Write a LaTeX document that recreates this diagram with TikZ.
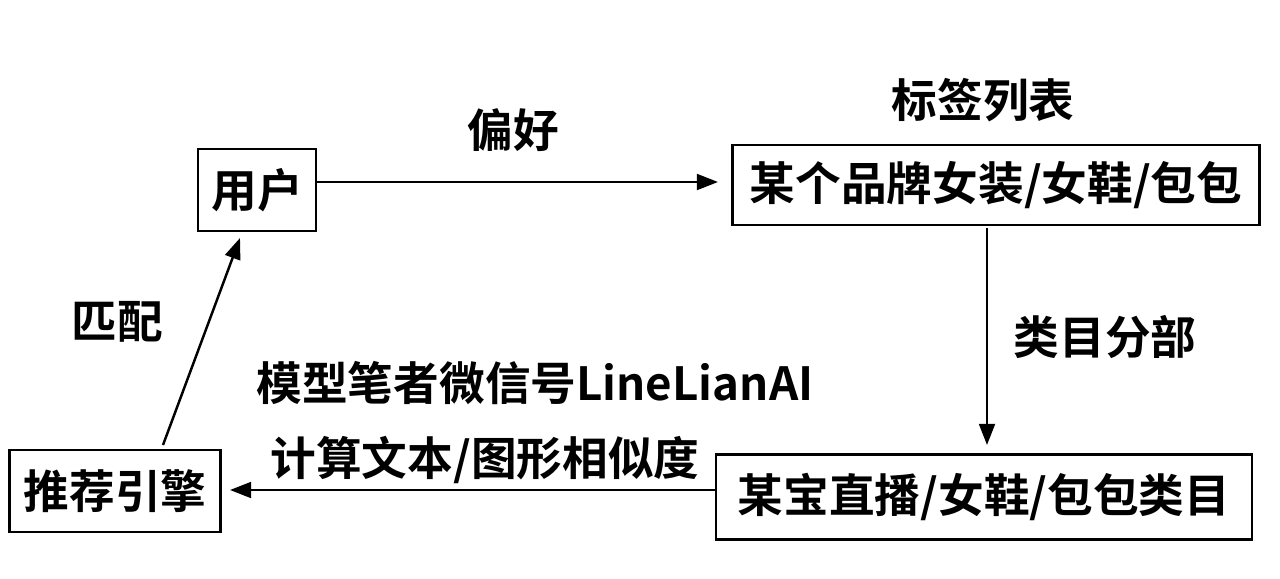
\documentclass[tikz,border=0pt]{standalone}
\usepackage{fontspec}
\setmainfont{Noto Sans CJK SC}[BoldFont={Noto Sans CJK SC Bold}]
\usetikzlibrary{arrows.meta}
\begin{document}
\begin{tikzpicture}[x=0.02cm,y=-0.02cm,
  box/.style={draw,line width=1.4pt,minimum height=1.65cm,inner sep=2pt,font=\fontsize{26}{30}\selectfont\bfseries},
  lbl/.style={font=\fontsize{26}{30}\selectfont\bfseries,inner sep=0pt},
  arr/.style={-{Triangle[length=12pt,width=9pt]},line width=1.4pt}]
\useasboundingbox (0,0) rectangle (1280,578);
\node[box,minimum width=2.36cm] (u) at (257,190) {用户};
\node[box,minimum width=10.54cm,minimum height=1.6cm] (b) at (996,185) {某个品牌女装/女鞋/包包};
\node[box,minimum width=4.22cm] (r) at (115,491) {推荐引擎};
\node[box,minimum width=10.72cm,minimum height=1.7cm] (z) at (984,497) {某宝直播/女鞋/包包类目};
\node[lbl] (t1) at (983,100) {标签列表};
\node[lbl] (t2) at (513,130) {偏好};
\node[lbl] (t3) at (1105,337) {类目分部};
\node[lbl] (t4) at (117,322) {匹配};
\node[lbl] (t5) at (535,383) {模型笔者微信号LineLianAI};
\node[lbl] (t6) at (485,460) {计算文本/图形相似度};
\coordinate (p1) at (u.east |- 0,182);
\coordinate (p2) at (718,182);
\draw[arr] (p1) -- (p2);
\draw[arr] (987,228) coordinate (p3) -- (987,445) coordinate (p4);
\draw[arr] (z.west |- 0,490) coordinate (p5) -- (230,490) coordinate (p6);
\draw[arr] (163,445) coordinate (p7) -- (240,238) coordinate (p8);
\end{tikzpicture}
\end{document}
